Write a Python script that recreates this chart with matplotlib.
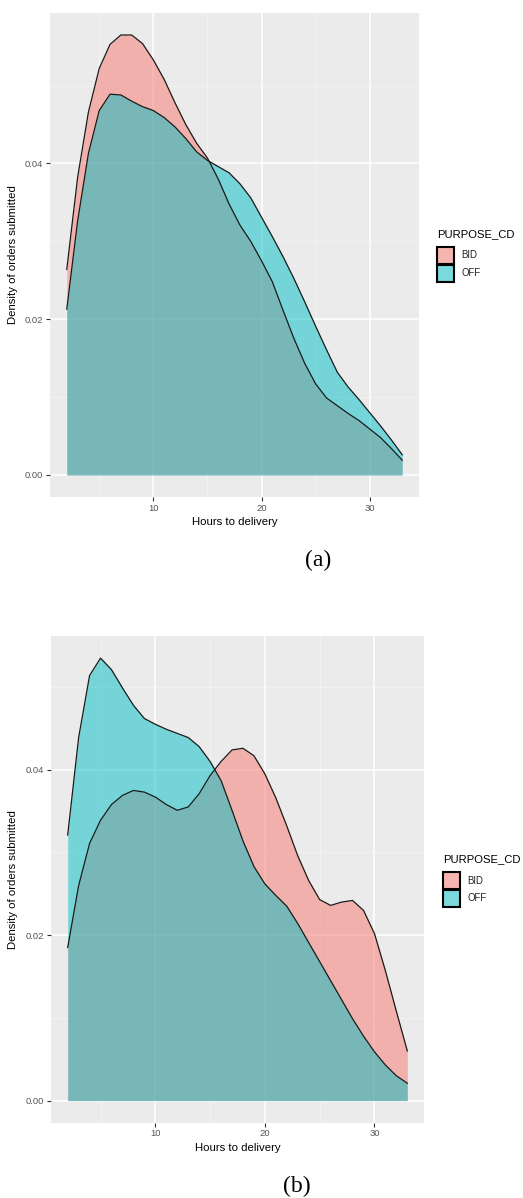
import numpy as np
import matplotlib.pyplot as plt
from matplotlib.patches import Rectangle

plt.rcParams['font.family'] = ['Liberation Sans', 'DejaVu Sans']

# Hours to delivery (x grid of the density estimates)
hours = np.arange(2, 34)

# Panel (a) densities
bid_a = [0.0264, 0.0382, 0.0466, 0.0522, 0.0553, 0.0565, 0.0565, 0.0554,
         0.0533, 0.0508, 0.0478, 0.0450, 0.0426, 0.0407, 0.0380, 0.0348,
         0.0321, 0.0300, 0.0275, 0.0248, 0.0211, 0.0175, 0.0143, 0.0117,
         0.0099, 0.0089, 0.0079, 0.0070, 0.0059, 0.0048, 0.0034, 0.0019]
off_a = [0.0213, 0.0326, 0.0413, 0.0468, 0.0489, 0.0488, 0.0480, 0.0473,
         0.0468, 0.0459, 0.0447, 0.0432, 0.0415, 0.0404, 0.0396, 0.0388,
         0.0374, 0.0356, 0.0331, 0.0306, 0.0280, 0.0252, 0.0222, 0.0191,
         0.0161, 0.0132, 0.0113, 0.0097, 0.0080, 0.0063, 0.0045, 0.0026]

# Panel (b) densities
bid_b = [0.0185, 0.0260, 0.0311, 0.0339, 0.0358, 0.0369, 0.0375, 0.0373,
         0.0367, 0.0358, 0.0351, 0.0355, 0.0371, 0.0393, 0.0410, 0.0424,
         0.0426, 0.0417, 0.0395, 0.0366, 0.0332, 0.0296, 0.0266, 0.0243,
         0.0236, 0.0240, 0.0242, 0.0230, 0.0202, 0.0157, 0.0108, 0.0060]
off_b = [0.0321, 0.0439, 0.0514, 0.0535, 0.0521, 0.0499, 0.0478, 0.0462,
         0.0455, 0.0449, 0.0444, 0.0439, 0.0428, 0.0410, 0.0387, 0.0351,
         0.0314, 0.0283, 0.0262, 0.0248, 0.0235, 0.0214, 0.0191, 0.0168,
         0.0145, 0.0122, 0.0099, 0.0078, 0.0059, 0.0043, 0.0030, 0.0021]

groups = ['BID', 'OFF']
colors = ['#F8766D', '#00BFC4']
captions = ['(a)', '(b)']

W, H = 523, 1198
fig = plt.figure(figsize=(W / 100, H / 100), dpi=100)


def blend(c, bg, a=0.5):
    c = np.array([int(c[i:i + 2], 16) for i in (1, 3, 5)]) / 255
    return tuple(a * c + (1 - a) * bg)


def panel(rect, series, legend_xy, caption_xy, caption, ylab_x):
    ax = fig.add_axes(rect)
    ax.set_facecolor('#EBEBEB')
    for s, c in zip(series, colors):
        ax.fill_between(hours, 0, s, color=c, alpha=0.5, lw=0)
        ax.plot(hours, s, color='#1a1a1a', lw=0.9, solid_joinstyle='round')
    ymax = max(max(s) for s in series)
    span = hours[-1] - hours[0]
    ax.set_xlim(hours[0] - 0.05 * span, hours[-1] + 0.05 * span)
    ax.set_ylim(-0.05 * ymax, 1.05 * ymax)
    ax.set_xticks([10, 20, 30])
    ax.set_yticks([0.0, 0.02, 0.04])
    ax.set_yticklabels(['0.00', '0.02', '0.04'])
    ax.set_xticks([5, 15, 25], minor=True)
    ax.set_yticks([0.01, 0.03, 0.05], minor=True)
    ax.grid(which='major', color='white', lw=1.1)
    ax.grid(which='minor', color='#F5F5F5', lw=0.55)
    ax.set_axisbelow(True)
    for sp in ax.spines.values():
        sp.set_visible(False)
    ax.tick_params(which='major', length=2.8, width=0.8, color='#333333',
                   labelsize=6.8, labelcolor='#555555', pad=2)
    ax.tick_params(which='minor', length=0)
    ax.set_xlabel('Hours to delivery', fontsize=8.2, labelpad=3)
    ax.set_ylabel('Density of orders submitted', fontsize=8.2)
    ax.yaxis.set_label_coords(ylab_x, 0.5)

    # legend drawn as keys in pixel positions
    lx, ly = legend_xy
    fig.text(lx / W, 1 - ly / H, 'PURPOSE_CD', fontsize=8.1,
             va='center', ha='left')
    key_bg = np.array([242, 242, 242]) / 255
    for i, (g, c) in enumerate(zip(groups, colors)):
        top = ly + 13 + i * 17.5
        fig.patches.append(Rectangle((lx / W, 1 - (top + 17) / H), 17 / W, 17 / H,
                                     transform=fig.transFigure,
                                     facecolor=blend(c, key_bg),
                                     edgecolor='black', lw=1.5))
        fig.text((lx + 24) / W, 1 - (top + 8.5) / H, g, fontsize=6.9,
                 va='center', ha='left', color='#222222')

    cx, cy = caption_xy
    fig.text(cx / W, 1 - cy / H, caption, fontsize=17, ha='center', va='center',
             family='Liberation Serif')
    return ax


panel([50 / W, 1 - 497 / H, 369 / W, 484 / H], [bid_a, off_a],
      (437, 234), (318.5, 560), captions[0], -0.087)
panel([50.7 / W, 1 - 1122.7 / H, 373.6 / W, 486.7 / H], [bid_b, off_b],
      (443, 859), (297, 1186), captions[1], -0.0875)

fig.savefig('out.png', dpi=100)
